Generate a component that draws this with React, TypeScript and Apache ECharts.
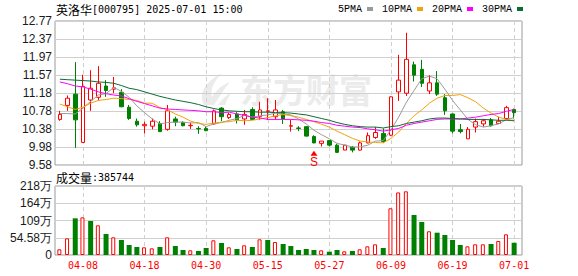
import React, { useEffect, useRef } from 'react';
import * as echarts from 'echarts';

const stockName = '英洛华';
const stockCode = '000795';
const quoteTime = '2025-07-01 15:00';
const volumeTitle = '成交量';
const watermarkText = '东方财富';

const dates = ['04-02','04-03','04-07','04-08','04-09','04-10','04-11','04-14','04-15','04-16','04-17','04-18','04-21','04-22','04-23','04-24','04-25','04-28','04-29','04-30','05-06','05-07','05-08','05-09','05-12','05-13','05-14','05-15','05-16','05-19','05-20','05-21','05-22','05-23','05-26','05-27','05-28','05-29','05-30','06-03','06-04','06-05','06-06','06-09','06-10','06-11','06-12','06-13','06-16','06-17','06-18','06-19','06-20','06-23','06-24','06-25','06-26','06-27','06-30','07-01'];

// [open, close, low, high]
const ohlc = [
  [10.59,10.70,10.56,10.78],[10.90,11.06,10.78,11.12],[11.15,10.58,9.96,11.86],[10.08,11.32,10.07,11.58],
  [11.02,11.28,10.78,11.68],[11.08,11.39,11.01,11.77],[11.33,11.23,11.09,11.46],[11.26,11.29,11.17,11.53],
  [11.19,10.87,10.86,11.26],[10.86,10.61,10.58,10.91],[10.55,10.47,10.43,10.61],[10.45,10.48,10.28,10.54],
  [10.44,10.55,10.37,10.61],[10.50,10.32,10.32,10.55],[10.37,10.78,10.34,10.91],[10.60,10.53,10.44,10.65],
  [10.52,10.45,10.44,10.55],[10.45,10.46,10.38,10.52],[10.39,10.38,10.27,10.44],[10.39,10.34,10.33,10.43],
  [10.49,10.78,10.47,10.81],[10.84,10.65,10.55,10.86],[10.63,10.70,10.60,10.74],[10.71,10.58,10.50,10.75],
  [10.60,10.70,10.47,10.80],[10.81,10.59,10.58,10.86],[10.65,10.80,10.58,10.98],[10.77,10.78,10.58,11.06],
  [10.65,10.80,10.58,11.02],[10.76,10.60,10.49,10.80],[10.44,10.45,10.32,10.58],[10.40,10.39,10.33,10.44],
  [10.43,10.22,10.21,10.44],[10.21,10.07,10.06,10.24],[10.06,10.11,9.99,10.11],[10.12,10.02,9.99,10.13],
  [10.02,9.86,9.85,10.05],[9.91,10.02,9.91,10.02],[9.97,9.91,9.86,10.00],[9.91,10.07,9.90,10.10],
  [10.07,10.23,10.06,10.30],[10.19,10.30,10.16,10.42],[10.28,10.10,10.07,10.39],[10.24,11.09,10.22,11.10],
  [11.20,11.46,11.00,12.02],[11.17,11.92,11.11,12.51],[11.80,11.57,11.43,11.87],[11.70,11.39,11.31,11.91],
  [11.22,11.40,11.15,11.57],[11.40,11.15,11.11,11.66],[11.07,10.78,10.69,11.15],[10.71,10.33,10.28,10.72],
  [10.36,10.32,10.28,10.49],[10.16,10.37,10.16,10.42],[10.42,10.54,10.30,10.61],[10.49,10.56,10.43,10.60],
  [10.58,10.45,10.43,10.62],[10.50,10.55,10.49,10.65],[10.61,10.85,10.58,10.89],[10.81,10.74,10.61,10.83]
];
const prevClose = 10.52;

// volume in lots (手)
const volumes = [
  180000, 527000, 1160000, 1190000, 1076000, 940000, 664000, 560000, 475000, 316000,
  253000, 243000, 211000, 253000, 560000, 285000, 158000, 148000, 127000, 221000,
  465000, 380000, 243000, 190000, 306000, 253000, 496000, 475000, 410000, 348000,
  285000, 158000, 190000, 158000, 148000, 105000, 158000, 116000, 127000, 180000,
  274000, 338000, 221000, 1477000, 1980000, 2015000, 1266000, 1044000, 750000, 706000,
  633000, 475000, 316000, 274000, 338000, 338000, 348000, 443000, 655000, 385744
];

const ma5 = [10.72,10.72,10.71,10.84,10.99,11.13,11.16,11.30,11.21,11.08,10.89,10.74,10.60,10.49,10.52,10.53,10.53,10.51,10.52,10.43,10.49,10.52,10.57,10.61,10.68,10.64,10.67,10.69,10.73,10.71,10.69,10.60,10.49,10.35,10.25,10.16,10.06,10.02,9.98,9.98,10.02,10.11,10.12,10.36,10.64,10.97,11.23,11.49,11.55,11.49,11.26,11.01,10.80,10.59,10.47,10.42,10.45,10.49,10.59,10.63];
const ma10 = [10.93,10.87,10.81,10.86,10.95,11.01,11.03,11.06,11.05,11.03,11.01,10.95,10.95,10.85,10.80,10.71,10.64,10.55,10.50,10.48,10.51,10.53,10.54,10.57,10.56,10.57,10.60,10.63,10.67,10.70,10.67,10.64,10.59,10.54,10.48,10.42,10.33,10.25,10.17,10.11,10.09,10.08,10.07,10.17,10.31,10.50,10.67,10.80,10.95,11.06,11.12,11.12,11.14,11.07,10.98,10.84,10.73,10.64,10.59,10.55];
const ma20 = [11.42,11.38,11.33,11.31,11.26,11.20,11.16,11.13,11.11,11.05,10.99,10.94,10.89,10.84,10.82,10.81,10.80,10.79,10.78,10.76,10.76,10.74,10.75,10.71,10.68,10.64,10.62,10.59,10.59,10.59,10.59,10.58,10.57,10.55,10.52,10.50,10.46,10.44,10.42,10.41,10.38,10.36,10.33,10.36,10.39,10.46,10.50,10.53,10.56,10.59,10.60,10.60,10.60,10.62,10.64,10.67,10.70,10.72,10.77,10.81];
const ma30 = [11.48,11.47,11.46,11.45,11.44,11.42,11.41,11.39,11.34,11.28,11.25,11.20,11.15,11.10,11.06,11.02,10.99,10.96,10.92,10.87,10.83,10.80,10.78,10.77,10.76,10.76,10.75,10.75,10.74,10.74,10.73,10.71,10.69,10.65,10.61,10.57,10.52,10.48,10.45,10.43,10.42,10.42,10.40,10.43,10.45,10.50,10.53,10.56,10.60,10.62,10.62,10.61,10.60,10.59,10.59,10.59,10.58,10.57,10.57,10.57];

const maNames = ['5PMA', '10PMA', '20PMA', '30PMA'];
const maColors = ['#9a9a9a', '#f0a30a', '#ff00ff', '#0b6b35'];

const priceMin = 9.58;
const priceMax = 12.77;
const priceTicks = ['9.58', '9.98', '10.38', '10.78', '11.18', '11.57', '11.97', '12.37', '12.77'];
const volMax = 2183200;
const volTicks = ['0', '54.58万', '109万', '164万', '218万'];
const labelEvery = 8;
const labelOffset = 3;

const signals = [{ date: '05-23', price: 9.84, text: 'S' }];

const RED = '#ff0000';
const GREEN = '#008000';
const GRID_LINE = '#d0d0d0';
const FRAME = '#9a9a9a';
const WATERMARK = '#ebebeb';

// watermark flame mark (decorative)
echarts.graphic.registerShape(
  'flameMark',
  echarts.graphic.extendPath(
    'M6 32 C0 22 6 9 24 0 C16 8 12 16 14 24 C18 17 24 12 32 9 C25 17 21 25 16 32 Z M20 32 C24 26 28 22 33 20 C30 25 28 29 27 32 Z',
    {}
  )
);

export default function App() {
  const ref = useRef<HTMLDivElement>(null);
  useEffect(() => {
    if (!ref.current) return;
    const chart = echarts.init(ref.current, undefined, { renderer: 'svg' });
    const closes = ohlc.map((d) => d[1]);
    const isUp = closes.map((c, i) => c >= (i === 0 ? prevClose : closes[i - 1]));
    const volUp = volumes.map((v, i) => (isUp[i] ? v : null));
    const volDown = volumes.map((v, i) => (isUp[i] ? null : v));
    const showIdx = (i: number) => i % labelEvery === labelOffset;
    const mas = [ma5, ma10, ma20, ma30];

    const frameX = (gi: number) => ({ type: 'value', gridIndex: gi, show: false, min: 0, max: 1 });
    const dataX = (gi: number, labels: boolean) => ({
      type: 'category', gridIndex: gi, data: dates, boundaryGap: false,
      axisLine: { show: false }, axisTick: { show: false },
      axisLabel: {
        show: labels, interval: (i: number) => showIdx(i), color: RED,
        fontFamily: 'DejaVu Sans Mono', fontSize: 10, margin: 5,
      },
      splitLine: { show: true, interval: (i: number) => showIdx(i), lineStyle: { color: GRID_LINE, type: [4, 3], width: 1 } },
    });
    const richTitle = {
      fontWeight: 'normal', color: '#000',
      rich: {
        cn: { fontFamily: 'Noto Sans CJK SC', fontSize: 12, color: '#000', lineHeight: 14 },
        en: { fontFamily: 'DejaVu Sans Mono', fontSize: 10, color: '#000', lineHeight: 14 },
      },
    };

    chart.setOption({
      animation: false,
      title: [
        { left: 56, top: 2, padding: 0, text: `{cn|${stockName}}{en|[${stockCode}] ${quoteTime}}`, textStyle: richTitle },
        { left: 56, top: 170, padding: 0, text: `{cn|${volumeTitle}}{en|:${volumes[volumes.length - 1]}}`, textStyle: richTitle },
      ],
      legend: {
        data: maNames, left: 338, top: 4, padding: 0, itemGap: 9, itemWidth: 6, itemHeight: 4,
        align: 'right', icon: 'rect', selectedMode: false,
        textStyle: { fontFamily: 'Liberation Mono', fontSize: 10, color: '#000', padding: 0 },
      },
      graphic: [
        {
          type: 'flameMark', x: 198, y: 73, scaleX: 1, scaleY: 1, silent: true, z: 0,
          style: { fill: WATERMARK },
        },
        {
          type: 'text', left: 240, top: 72, silent: true, z: 0,
          style: { text: watermarkText, font: 'bold 33px "Noto Sans CJK SC"', fill: WATERMARK },
        },
      ],
      grid: [
        { left: 55, right: 56, top: 21, height: 144, show: true, borderColor: FRAME, borderWidth: 1 },
        { left: 59.85, right: 63.85, top: 21, height: 144 },
        { left: 55, right: 56, top: 186, height: 69, show: true, borderColor: FRAME, borderWidth: 1 },
        { left: 59.85, right: 63.85, top: 186, height: 69 },
      ],
      xAxis: [frameX(0), dataX(1, false), frameX(2), dataX(3, true)],
      yAxis: [
        {
          type: 'value', gridIndex: 0, min: 0, max: priceTicks.length - 1, interval: 1,
          axisLine: { show: false }, axisTick: { show: false },
          axisLabel: { formatter: (v: number) => priceTicks[v], color: '#1a1a1a', fontFamily: 'Liberation Sans', fontSize: 12, margin: 3 },
          splitLine: { show: true, lineStyle: { color: GRID_LINE, width: 1 } },
        },
        { type: 'value', gridIndex: 1, min: priceMin, max: priceMax, show: false },
        {
          type: 'value', gridIndex: 2, min: 0, max: volTicks.length - 1, interval: 1,
          axisLine: { show: false }, axisTick: { show: false },
          axisLabel: { formatter: (v: number) => volTicks[v], color: '#1a1a1a', fontFamily: 'Liberation Sans', fontSize: 12, margin: 3 },
          splitLine: { show: true, lineStyle: { color: GRID_LINE, width: 1 } },
        },
        { type: 'value', gridIndex: 3, min: 0, max: volMax, show: false },
      ],
      series: [
        {
          type: 'candlestick', xAxisIndex: 1, yAxisIndex: 1, data: ohlc, barWidth: 4, clip: false, z: 3,
          itemStyle: { color: '#ffffff', color0: GREEN, borderColor: RED, borderColor0: GREEN, borderColorDoji: RED, borderWidth: 1 },
          emphasis: { disabled: true },
          markPoint: {
            symbol: 'triangle', symbolSize: [7, 5], itemStyle: { color: RED },
            label: { show: true, position: 'bottom', distance: 0, formatter: '{b}', color: RED, fontFamily: 'Liberation Sans', fontSize: 12 },
            data: signals.map((s) => ({ name: s.text, coord: [s.date, s.price] })),
          },
        },
        ...mas.map((d, k) => ({
          name: maNames[k], type: 'line', xAxisIndex: 1, yAxisIndex: 1, data: d,
          showSymbol: false, symbol: 'none', color: maColors[k], z: 4,
          lineStyle: { color: maColors[k], width: 1 }, itemStyle: { color: maColors[k] },
          emphasis: { disabled: true },
        })),
        {
          type: 'bar', xAxisIndex: 3, yAxisIndex: 3, data: volUp, barWidth: 4, barGap: '-100%', clip: false,
          itemStyle: { color: '#ffffff', borderColor: RED, borderWidth: 1 },
          emphasis: { disabled: true },
        },
        {
          type: 'bar', xAxisIndex: 3, yAxisIndex: 3, data: volDown, barWidth: 5, barGap: '-100%', clip: false,
          itemStyle: { color: GREEN },
          emphasis: { disabled: true },
        },
      ],
    });
    return () => chart.dispose();
  }, []);
  return <div ref={ref} style={{ position: 'absolute', left: 0, top: 0, width: 578, height: 276 }} />;
}
